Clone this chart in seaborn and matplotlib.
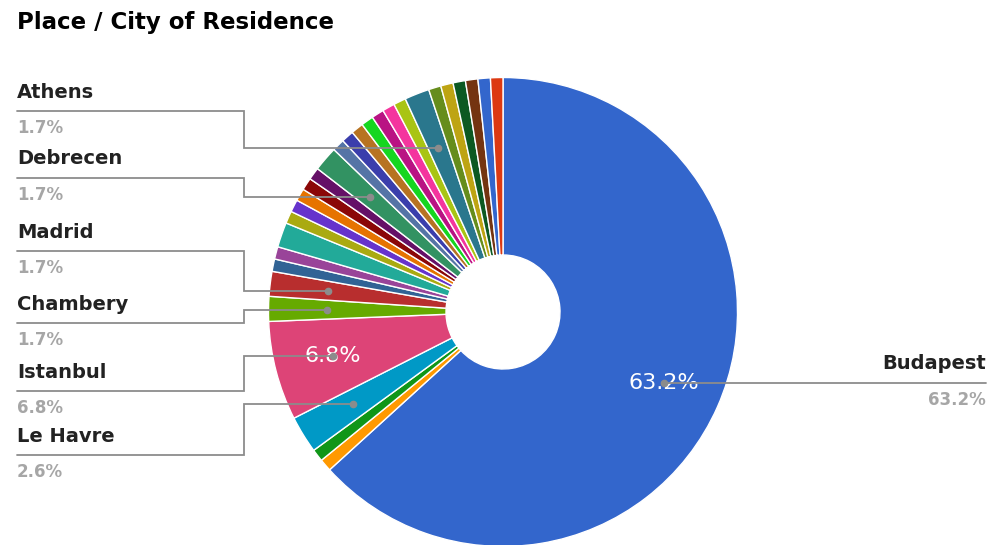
import numpy as np
import matplotlib
matplotlib.use("Agg")
import matplotlib.pyplot as plt
import seaborn as sns

# Survey answers: place / city of residence (respondent counts, chart order)
cities = ["Budapest", "", "", "Le Havre", "Istanbul", "Chambery", "Madrid",
          "", "", "", "", "", "", "", "", "Debrecen", "", "", "", "", "", "",
          "", "Athens", "", "", "", "", "", ""]
counts = [74, 1, 1, 3, 8, 2, 2, 1, 1, 2, 1, 1, 1, 1, 1, 2, 1, 1, 1, 1, 1, 1,
          1, 2, 1, 1, 1, 1, 1, 1]
slice_colors = ["#3366cc", "#ff9900", "#109618", "#0099c6", "#dd4477",
                "#66aa00", "#b82e2e", "#316395", "#994499", "#22aa99",
                "#aaaa11", "#6633cc", "#e67300", "#8b0707", "#651067",
                "#329262", "#5574a6", "#3b3eac", "#b77322", "#16d620",
                "#b91383", "#f4359e", "#a9c413", "#2a778d", "#668d1c",
                "#bea413", "#0c5922", "#743411", "#3366cc", "#dc3912"]
title = "Place / City of Residence"

# Callout rows on the left side: leader-line height (px from top)
left_callouts = {"Athens": 111, "Debrecen": 178, "Madrid": 251,
                 "Chambery": 323, "Istanbul": 391, "Le Havre": 455}
right_callouts = ["Budapest"]

sns.set_theme(style="white")
plt.rcParams["font.family"] = ["DejaVu Sans"]
palette = sns.color_palette(slice_colors)

W, H = 1000, 545
fig = plt.figure(figsize=(W / 100, H / 100), dpi=100)
ax = fig.add_axes([0, 0, 1, 1])


def Y(y):
    return H - y


cx, cy = 503, Y(312)
R, hole = 234.5, 57
total = sum(counts)

ax.pie(counts, colors=palette, startangle=90, counterclock=False,
       center=(cx, cy), radius=R, frame=True,
       wedgeprops=dict(width=R - hole, edgecolor="white", linewidth=1.0))
ax.set_xlim(0, W)
ax.set_ylim(0, H)
ax.set_aspect("equal")
ax.axis("off")

cum = np.concatenate([[0], np.cumsum(counts)[:-1]])
line_col = "#8c8c8c"
name_col = "#222222"
pct_col = "#a6a6a6"

for name, c, start in zip(cities, counts, cum):
    pct = 100.0 * c / total
    phi = np.deg2rad(90 - 360.0 * (start + c / 2) / total)
    ax_, ay_ = cx + 0.75 * R * np.cos(phi), cy + 0.75 * R * np.sin(phi)
    if pct > 5:
        ax.text(ax_, ay_, f"{pct:.1f}%", color="white", fontsize=16,
                ha="center", va="center", zorder=3)
    if name in left_callouts:
        ly = Y(left_callouts[name])
        ax.plot([17, 244, 244, ax_], [ly, ly, ay_, ay_], color=line_col,
                lw=1.3, zorder=4, solid_joinstyle="miter")
        ax.plot([ax_], [ay_], "o", color=line_col, ms=4.5, zorder=5)
        ax.text(17, ly + 19, name, color=name_col, fontsize=14,
                fontweight="bold", ha="left", va="center")
        ax.text(17, ly - 17, f"{pct:.1f}%", color=pct_col, fontsize=12,
                fontweight="bold", ha="left", va="center")
    elif name in right_callouts:
        ax.plot([ax_, 986], [ay_, ay_], color=line_col, lw=1.3, zorder=4)
        ax.plot([ax_], [ay_], "o", color=line_col, ms=4.5, zorder=5)
        ax.text(986, ay_ + 20, name, color=name_col, fontsize=14,
                fontweight="bold", ha="right", va="center")
        ax.text(986, ay_ - 17, f"{pct:.1f}%", color=pct_col, fontsize=12,
                fontweight="bold", ha="right", va="center")

ax.text(17, Y(22), title, color="black", fontsize=16.5, fontweight="bold",
        ha="left", va="center")

fig.savefig("out.png", dpi=100, facecolor="white")
